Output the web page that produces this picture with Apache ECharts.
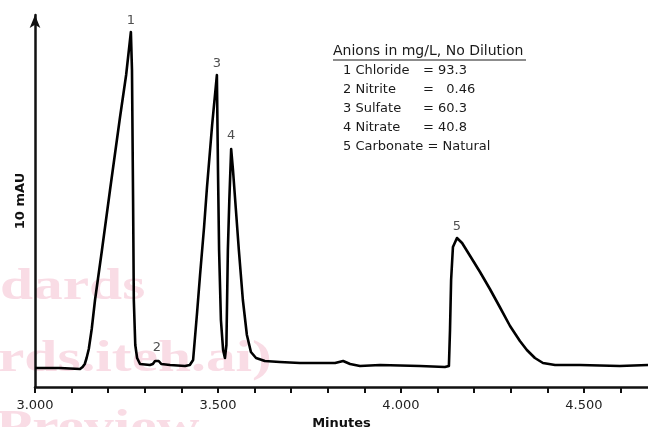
<!DOCTYPE html>
<html>
<head>
<meta charset="UTF-8">
<title>Anions chromatogram</title>
<script src="https://cdn.jsdelivr.net/npm/echarts@6/dist/echarts.min.js"></script>
<style>
  html, body { margin: 0; padding: 0; background: #fff; }
  #main { width: 648px; height: 427px; }
</style>
</head>
<body>
<div id="main"></div>
<script>
// retention time (minutes) and detector response (arbitrary units)
var times = [3.000, 3.068, 3.123, 3.130, 3.136, 3.141, 3.147, 3.155, 3.164, 3.183, 3.205, 3.232, 3.249, 3.262,
  3.265, 3.268, 3.270, 3.274, 3.279, 3.287, 3.314, 3.322, 3.328, 3.333, 3.338, 3.345, 3.369, 3.410, 3.423,
  3.432, 3.443, 3.451, 3.462, 3.470, 3.484, 3.497, 3.500, 3.503, 3.508, 3.514, 3.519, 3.523,
  3.527, 3.531, 3.536, 3.541, 3.549, 3.557, 3.568, 3.579, 3.590, 3.604, 3.628, 3.669, 3.724,
  3.820, 3.842, 3.861, 3.888, 3.943, 4.052, 4.120, 4.131, 4.134, 4.137, 4.142, 4.153, 4.167,
  4.189, 4.216, 4.243, 4.270, 4.298, 4.325, 4.344, 4.366, 4.388, 4.421, 4.489, 4.598, 4.675];
var response = [19, 19, 18, 20, 23, 29, 38, 58, 87, 137, 197, 269, 312, 355,
  317, 187, 87, 42, 29, 23, 22, 23, 26, 28, 26, 23, 22, 21, 22,
  27, 75, 112, 160, 200, 262, 312, 217, 137, 67, 37, 29, 42,
  137, 187, 238, 217, 177, 137, 87, 52, 35, 29, 26, 25, 24,
  24, 26, 23, 21, 22, 21, 20, 21, 57, 107, 140, 149, 144,
  131, 115, 98, 80, 61, 46, 37, 29, 24, 22, 22, 21, 22];

// peak numbers and where they sit
var peakNames = ['1', '2', '3', '4', '5'];
var peakTimes = [3.262, 3.333, 3.497, 3.536, 4.153];
var peakTops = [355, 28, 312, 240, 149];

// annotation table
var tableTitle = 'Anions in mg/L, No Dilution';
var tableNames = ['1 Chloride', '2 Nitrite', '3 Sulfate', '4 Nitrate', '5 Carbonate = Natural'];
var tableValues = ['= 93.3', '=   0.46', '= 60.3', '= 40.8', ''];

var xTickLabels = ['3.000', '3.500', '4.000', '4.500'];

var line = [];
for (var i = 0; i < times.length; i++) line.push([times[i], response[i]]);
var peaks = [];
for (var j = 0; j < peakNames.length; j++) peaks.push({ name: peakNames[j], value: [peakTimes[j], peakTops[j]] });

var font = 'DejaVu Sans';
var graphics = [];
// faint watermark left over from the scanned page
var wm = [['dards', 0, 287], ['rds.iteh.ai)', -2, 359], ['Preview', -4, 428]];
wm.forEach(function (w) {
  graphics.push({ type: 'text', x: w[1], y: w[2], scaleX: 1.32, z: -10, silent: true,
    style: { text: w[0], fill: '#f9dce5', font: 'bold 45px "Liberation Serif"', verticalAlign: 'middle' } });
});
graphics.push({ type: 'text', left: 333, top: 44, style: { text: tableTitle, fill: '#1a1a1a', font: '14px "' + font + '"' } });
graphics.push({ type: 'line', shape: { x1: 333, y1: 60, x2: 526, y2: 60 }, style: { stroke: '#1a1a1a', lineWidth: 1 } });
var rowY = [72, 91, 110, 129, 148];
for (var k = 0; k < tableNames.length; k++) {
  graphics.push({ type: 'text', left: 343, top: rowY[k] - 8, style: { text: tableNames[k], fill: '#1a1a1a', font: '13px "' + font + '"' } });
  if (tableValues[k]) {
    graphics.push({ type: 'text', left: 423, top: rowY[k] - 8, style: { text: tableValues[k], fill: '#1a1a1a', font: '13px "' + font + '"' } });
  }
}

var chart = echarts.init(document.getElementById('main'));
chart.setOption({
  animation: false,
  backgroundColor: '#fff',
  grid: { left: 35, right: 0, top: 15, bottom: 40, outerBoundsMode: 'none', containLabel: false },
  xAxis: {
    type: 'value', min: 3.0, max: 4.675, interval: 0.1,
    name: 'Minutes', nameLocation: 'middle', nameGap: 24,
    nameTextStyle: { fontFamily: font, fontWeight: 'bold', fontSize: 13, color: '#111' },
    axisLine: { lineStyle: { color: '#111', width: 2.5 } },
    axisTick: { length: 6, lineStyle: { color: '#111', width: 2 } },
    axisLabel: {
      fontFamily: font, fontSize: 13, color: '#222', margin: 12, showMaxLabel: false,
      formatter: function (v) {
        var s = v.toFixed(3);
        return xTickLabels.indexOf(s) >= 0 ? s : '';
      }
    },
    splitLine: { show: false }
  },
  yAxis: {
    type: 'value', min: 0, max: 372,
    name: '10 mAU', nameLocation: 'middle', nameGap: 8, nameRotate: 90,
    nameTextStyle: { fontFamily: font, fontWeight: 'bold', fontSize: 13, color: '#111' },
    axisLine: { show: true, symbol: ['none', 'arrow'], symbolSize: [8, 13], lineStyle: { color: '#111', width: 2.5 } },
    axisTick: { show: false },
    axisLabel: { show: false },
    splitLine: { show: false }
  },
  graphic: graphics,
  series: [
    {
      type: 'line', data: line, showSymbol: false, smooth: false, z: 3,
      lineStyle: { color: '#000', width: 2.6, join: 'round' }
    },
    {
      type: 'scatter', data: peaks, symbolSize: 0, z: 4,
      label: { show: true, position: 'top', distance: 5, formatter: '{b}', fontFamily: font, fontSize: 13, color: '#222' }
    }
  ]
});
</script>
</body>
</html>
